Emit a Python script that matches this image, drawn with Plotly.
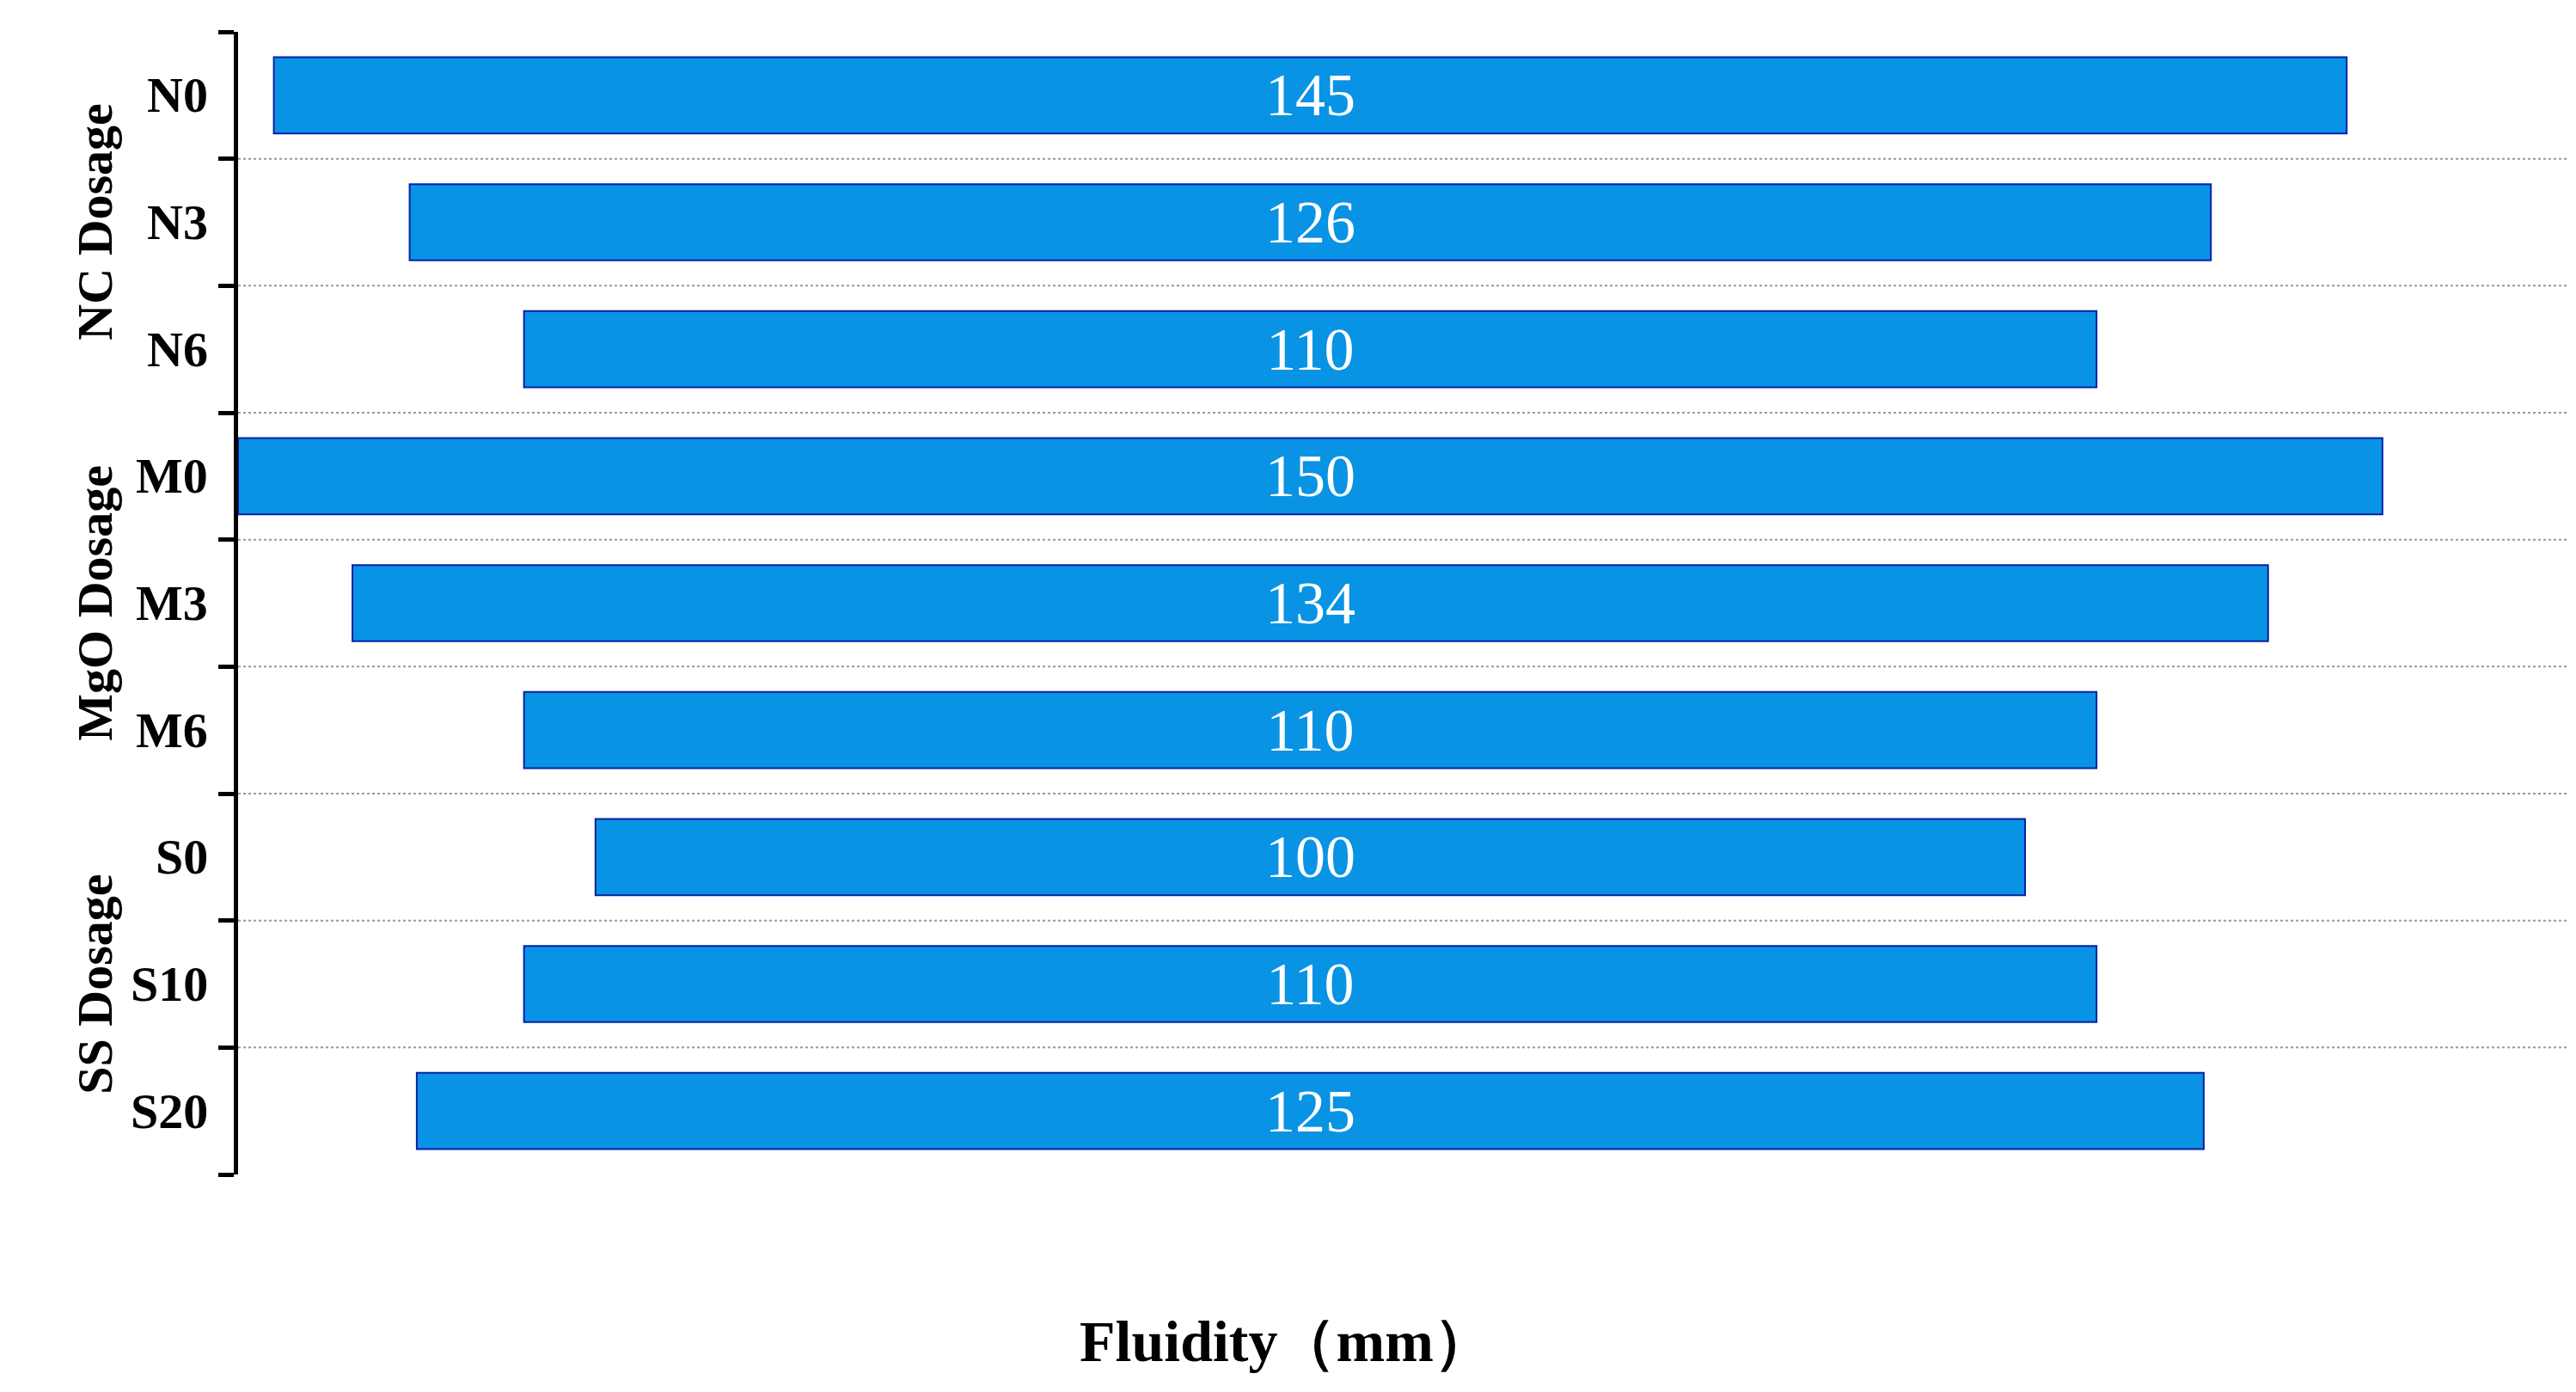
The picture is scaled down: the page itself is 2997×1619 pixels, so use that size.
import plotly.graph_objects as go

samples = ["N0", "N3", "N6", "M0", "M3", "M6", "S0", "S10", "S20"]
fluidity = [145, 126, 110, 150, 134, 110, 100, 110, 125]
groups = ["NC Dosage", "MgO Dosage", "SS Dosage"]
group_rows = [1, 4, 7]

idx = list(range(len(samples)))
serif = "Liberation Serif"

fig = go.Figure(go.Bar(
    orientation="h", y=idx, x=fluidity, base=[-v / 2 for v in fluidity],
    width=0.6,
    marker=dict(color="#0893e4", line=dict(color="#0b1fa8", width=2)),
    text=[str(v) for v in fluidity], textposition="inside", insidetextanchor="middle",
    textfont=dict(family=serif, size=70, color="white"),
    hoverinfo="skip",
))

# dotted separators between rows
for b in range(1, len(samples)):
    fig.add_shape(type="line", xref="paper", x0=0, x1=1, y0=b - 0.5, y1=b - 0.5,
                  line=dict(color="#999999", width=2, dash="dot"))

# sample labels
for i, s in enumerate(samples):
    fig.add_annotation(x=-0.012, xref="paper", y=i, yref="y", text="<b>%s</b>" % s,
                       showarrow=False, xanchor="right",
                       font=dict(family=serif, size=58, color="black"))

# group labels
for g, r in zip(groups, group_rows):
    fig.add_annotation(x=-0.074, xref="paper", y=r, yref="y", text="<b>%s</b>" % g,
                       showarrow=False, textangle=-90,
                       font=dict(family=serif, size=58, color="black"))

fig.add_annotation(x=0.448, xref="paper", y=-0.146, yref="paper",
                   text="<b>Fluidity（mm）</b>", showarrow=False, yanchor="middle",
                   font=dict(family=serif, size=68, color="black"))

fig.update_xaxes(range=[-75, 88.6], visible=False)
fig.update_yaxes(range=[len(samples) - 0.5, -0.5],
                 tickvals=[b - 0.5 for b in range(len(samples) + 1)],
                 showticklabels=False, ticks="outside", ticklen=18, tickwidth=5,
                 tickcolor="black", showline=True, linecolor="black", linewidth=5,
                 showgrid=False, zeroline=False)
fig.update_layout(width=2997, height=1619, plot_bgcolor="white", paper_bgcolor="white",
                  margin=dict(l=269, r=7, t=29, b=261), showlegend=False)

fig.write_html("out.html")
